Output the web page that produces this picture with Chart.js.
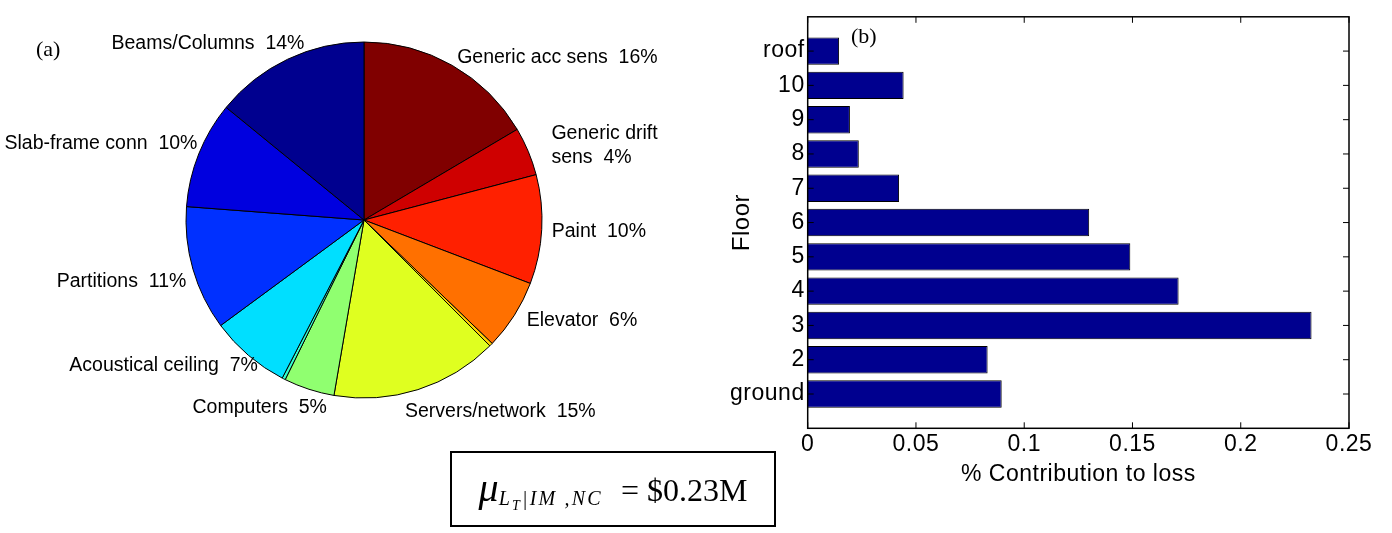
<!DOCTYPE html>
<html>
<head>
<meta charset="utf-8">
<script src="https://cdn.jsdelivr.net/npm/chart.js@4"></script>
<style>
  body { margin: 0; background: #fff; width: 1392px; height: 533px; position: relative; overflow: hidden; }
  canvas { position: absolute; top: 0; }
  .tag { position: absolute; font-family: "Liberation Serif", serif; font-size: 22px; color: #000; }
  #formula {
    position: absolute; left: 450px; top: 451px; width: 322px; height: 72px;
    border: 2.5px solid #000; font-family: "Liberation Serif", serif; font-size: 32px;
    line-height: 74px; text-align: center; white-space: nowrap; color: #000;
  }
  #formula .mu { font-size: 40px; font-style: italic; line-height: 1; }
  #formula .sub { font-size: 20px; font-style: italic; line-height: 1; position: relative; top: 4px; letter-spacing: 2.2px; }
  #formula .subsub { font-size: 14px; position: relative; top: 5px; }
  #formula .rest { margin-left: 18px; }
</style>
</head>
<body>
<canvas id="pieChart" width="720" height="440" style="left:0"></canvas>
<canvas id="barChart" width="692" height="500" style="left:700px"></canvas>
<div class="tag" style="left:36px;top:36px">(a)</div>
<div class="tag" style="left:851px;top:23px">(b)</div>
<div id="formula"><span class="mu">μ</span><span class="sub">L<span class="subsub">T</span>|IM ,NC</span><span class="rest">= $0.23M</span></div>

<script>
// (a) pie: components clockwise from the top
const componentNames = ['Generic acc sens', 'Generic drift\nsens', 'Paint', 'Elevator', '',
  'Servers/network', 'Computers', '', 'Acoustical ceiling', 'Partitions', 'Slab-frame conn', 'Beams/Columns'];
const componentShares = [16.5, 4.4, 9.9, 6.4, 0.3, 15.2, 4.6, 0.3, 7.3, 11.3, 9.7, 14.1];
const printedPct = [16, 4, 10, 6, 0, 15, 5, 0, 7, 11, 10, 14];

// (b) bars: floors bottom to top
const floors = ['ground', '2', '3', '4', '5', '6', '7', '8', '9', '10', 'roof'];
const lossShare = [0.0896, 0.0831, 0.2327, 0.1713, 0.1490, 0.1300, 0.0422, 0.0236, 0.0195, 0.0443, 0.0145];
const xTicks = [0, 0.05, 0.1, 0.15, 0.2, 0.25];

const sliceColors = ['#800000', '#CF0000', '#FF2000', '#FF7000', '#FFCF00', '#DFFF20',
  '#90FF70', '#30FFCF', '#00DFFF', '#0030FF', '#0000DF', '#00008F'];
const labelNudge = [[0, 1], [14, -2], [0, 2], [4, 0], [0, 0], [-16, 12], [21, 9], [0, 0], [16, 3], [3, 10], [8, -7], [21, -7]];
const sansFont = '"Liberation Sans", Arial, sans-serif';

const pieLabels = {
  id: 'pieLabels',
  afterDraw(chart) {
    const ctx = chart.ctx;
    ctx.save();
    ctx.font = '19.5px ' + sansFont;
    ctx.fillStyle = '#000';
    ctx.textBaseline = 'middle';
    chart.getDatasetMeta(0).data.forEach((arc, i) => {
      if (!componentNames[i]) return;   // slivers have no label
      const mid = (arc.startAngle + arc.endAngle) / 2;
      const r = arc.outerRadius * 1.056;
      const x = arc.x + r * Math.cos(mid) + labelNudge[i][0];
      const y = arc.y + r * Math.sin(mid) + labelNudge[i][1];
      ctx.textAlign = Math.cos(mid) >= 0 ? 'left' : 'right';
      const lines = (componentNames[i] + '  ' + printedPct[i] + '%').split('\n');
      lines.forEach((ln, k) => ctx.fillText(ln, x, y + (k - (lines.length - 1) / 2) * 24));
    });
    ctx.restore();
  }
};

new Chart(document.getElementById('pieChart'), {
  type: 'pie',
  data: {
    labels: componentNames,
    datasets: [{ data: componentShares, backgroundColor: sliceColors, borderColor: '#000', borderWidth: 1 }]
  },
  options: {
    responsive: false,
    animation: false,
    events: [],
    layout: { padding: { left: 185.5, top: 41.5, right: 177.5, bottom: 41.5 } },
    plugins: { legend: { display: false }, tooltip: { enabled: false } }
  },
  plugins: [pieLabels]
});

// padded category axis, roof on top
const yLabels = [''].concat(floors.slice().reverse(), ['']);
const yValues = [null].concat(lossShare.slice().reverse(), [null]);

const axesFrame = {
  id: 'axesFrame',
  beforeUpdate(chart) { chart.ctx.letterSpacing = '0.5px'; },
  afterDraw(chart) {
    const { ctx, chartArea: a, scales: { x, y } } = chart;
    ctx.save();
    ctx.strokeStyle = '#000';
    ctx.lineWidth = 1.5;
    ctx.strokeRect(a.left, a.top, a.right - a.left, a.bottom - a.top);
    ctx.lineWidth = 1;
    ctx.beginPath();
    xTicks.forEach(v => {
      const px = x.getPixelForValue(v);
      ctx.moveTo(px, a.bottom); ctx.lineTo(px, a.bottom - 6);
      ctx.moveTo(px, a.top); ctx.lineTo(px, a.top + 6);
    });
    floors.forEach(f => {
      const py = y.getPixelForValue(yLabels.indexOf(f));
      ctx.moveTo(a.left, py); ctx.lineTo(a.left + 6, py);
      ctx.moveTo(a.right, py); ctx.lineTo(a.right - 6, py);
    });
    ctx.stroke();
    ctx.restore();
  }
};

new Chart(document.getElementById('barChart'), {
  type: 'bar',
  data: {
    labels: yLabels,
    datasets: [{
      data: yValues,
      backgroundColor: '#00008F',
      borderColor: '#000',
      borderWidth: 1,
      barPercentage: 0.8,
      categoryPercentage: 1
    }]
  },
  options: {
    indexAxis: 'y',
    responsive: false,
    animation: false,
    events: [],
    layout: { padding: { top: 6.7, right: 43, bottom: 0, left: 0 } },
    plugins: { legend: { display: false }, tooltip: { enabled: false } },
    scales: {
      x: {
        type: 'linear',
        min: 0,
        max: 0.25,
        afterBuildTicks: s => { s.ticks = xTicks.map(v => ({ value: v })); },
        afterFit: s => { s.height = 71.7; },
        grid: { display: false, drawTicks: false },
        border: { display: false },
        ticks: { color: '#000', font: { family: sansFont, size: 23 }, padding: 3, maxRotation: 0, autoSkip: false, callback: v => String(v) },
        title: { display: true, text: '% Contribution to loss', color: '#000', font: { family: sansFont, size: 23 }, padding: { top: 0, bottom: 12 } }
      },
      y: {
        offset: false,
        afterFit: s => { s.width = 107.7; },
        grid: { display: false, drawTicks: false },
        border: { display: false },
        ticks: { color: '#000', font: { family: sansFont, size: 23 }, padding: 3, autoSkip: false },
        title: { display: true, text: 'Floor', color: '#000', font: { family: sansFont, size: 24 }, padding: { top: 28, bottom: 0 } }
      }
    }
  },
  plugins: [axesFrame]
});
</script>
</body>
</html>
